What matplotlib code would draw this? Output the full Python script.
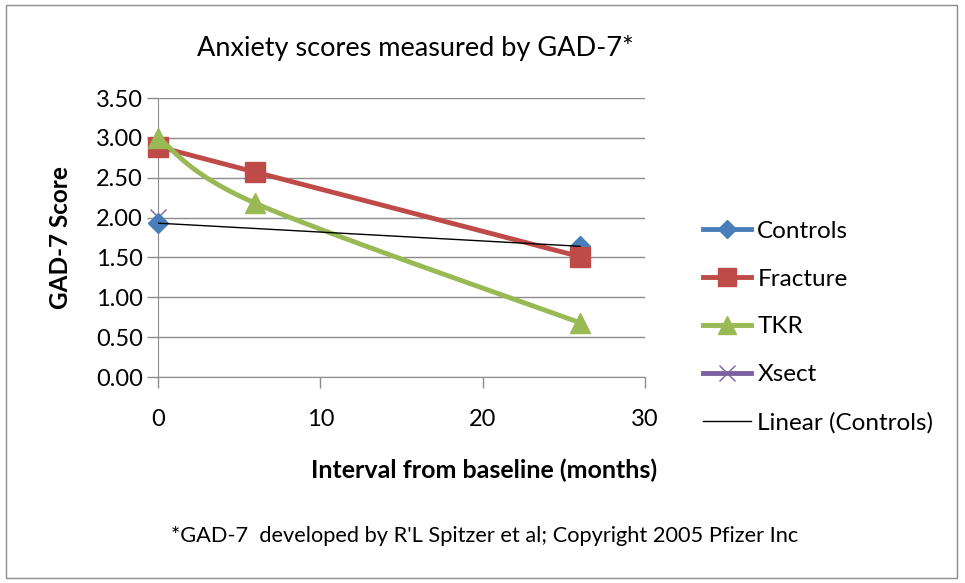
import numpy as np
import matplotlib
matplotlib.use("Agg")
import matplotlib.pyplot as plt
from matplotlib.lines import Line2D
from matplotlib.patches import Rectangle

plt.rcParams['font.family'] = ['Lato', 'DejaVu Sans']

controls_x = [0, 26]
controls_y = [1.93, 1.64]
fracture_x = [0, 6, 26]
fracture_y = [2.89, 2.57, 1.51]
tkr_x = [0, 6, 26]
tkr_y = [3.00, 2.18, 0.68]
xsect_x = [0]
xsect_y = [2.01]

c_blue = '#4a7ebb'
c_red = '#be4b48'
c_green = '#98b954'
c_purple = '#7d60a0'

def catmull(xs, ys, n=60):
    xs = np.asarray(xs, float); ys = np.asarray(ys, float)
    px = np.concatenate([[xs[0]], xs, [xs[-1]]])
    py = np.concatenate([[ys[0]], ys, [ys[-1]]])
    ox, oy = [], []
    for i in range(1, len(px) - 2):
        p0 = np.array([px[i-1], py[i-1]]); p1 = np.array([px[i], py[i]])
        p2 = np.array([px[i+1], py[i+1]]); p3 = np.array([px[i+2], py[i+2]])
        b1 = p1 + (p2 - p0) / 6.0
        b2 = p2 - (p3 - p1) / 6.0
        t = np.linspace(0, 1, n)[:, None]
        pts = ((1-t)**3)*p1 + 3*((1-t)**2)*t*b1 + 3*(1-t)*t**2*b2 + t**3*p2
        ox.extend(pts[:, 0]); oy.extend(pts[:, 1])
    return np.array(ox), np.array(oy)

fig = plt.figure(figsize=(9.65, 5.83), dpi=100)
fig.patches.append(Rectangle((0.006, 0.009), 0.986, 0.982, transform=fig.transFigure,
                             fill=False, edgecolor='#8c8c8c', linewidth=1.0))
ax = fig.add_axes([0.1637, 0.3533, 0.5047, 0.4786])

ax.set_xlim(0, 30)
ax.set_ylim(0, 3.5)
ax.set_xticks([0, 10, 20, 30])
ax.set_yticks(np.arange(0, 3.51, 0.5))
ax.set_yticklabels([f"{v:.2f}" for v in np.arange(0, 3.51, 0.5)])
ax.yaxis.grid(True, color='#8c8c8c', linewidth=1.0)
ax.set_axisbelow(True)
for s in ['top', 'right']:
    ax.spines[s].set_visible(False)
for s in ['left', 'bottom']:
    ax.spines[s].set_color('#8c8c8c')
ax.tick_params(axis='both', colors='#8c8c8c', labelcolor='black', labelsize=17, length=8, width=1)
ax.tick_params(axis='x', pad=15)
ax.tick_params(axis='y', pad=3)

# series
sx, sy = catmull(tkr_x, tkr_y)
ax.plot(fracture_x, fracture_y, color=c_red, linewidth=3.5, marker='s', markersize=14,
        clip_on=False, zorder=4)
ax.plot(sx, sy, color=c_green, linewidth=3.5, clip_on=False, zorder=5)
ax.plot(tkr_x, tkr_y, linestyle='none', color=c_green, marker='^', markersize=15,
        clip_on=False, zorder=5)
ax.plot(xsect_x, xsect_y, linestyle='none', color=c_purple, marker='x', markersize=12,
        markeredgewidth=1.0, clip_on=False, zorder=3)
ax.plot(controls_x, controls_y, linestyle='none', color=c_blue, marker='D', markersize=10,
        clip_on=False, zorder=3)
coef = np.polyfit(controls_x, controls_y, 1)
tx = np.array([min(controls_x), max(controls_x)])
ax.plot(tx, np.polyval(coef, tx), color='black', linewidth=1.0, zorder=6)

handles = [
    Line2D([], [], color=c_blue, linewidth=3.5, marker='D', markersize=9),
    Line2D([], [], color=c_red, linewidth=3.5, marker='s', markersize=13),
    Line2D([], [], color=c_green, linewidth=3.5, marker='^', markersize=13),
    Line2D([], [], color=c_purple, linewidth=3.5, marker='x', markersize=11, markeredgewidth=1.0),
    Line2D([], [], color='black', linewidth=1.0),
]
labels = ['Controls', 'Fracture', 'TKR', 'Xsect', 'Linear (Controls)']
fig.legend(handles, labels, loc='upper left', bbox_to_anchor=(0.718, 0.638),
           frameon=False, fontsize=17.5, handlelength=2.0, handletextpad=0.25,
           labelspacing=1.1, borderaxespad=0)

fig.text(0.43, 0.917, 'Anxiety scores measured by GAD-7*', ha='center', va='center', fontsize=19.5)
fig.text(0.063, 0.592, 'GAD-7 Score', ha='center', va='center', rotation=90,
         fontsize=17.5, fontweight='bold')
fig.text(0.502, 0.194, 'Interval from baseline (months)', ha='center', va='center',
         fontsize=18, fontweight='bold')
fig.text(0.502, 0.081, "*GAD-7  developed by R'L Spitzer et al; Copyright 2005 Pfizer Inc",
         ha='center', va='center', fontsize=15.7)

fig.savefig('out.png', dpi=100)
